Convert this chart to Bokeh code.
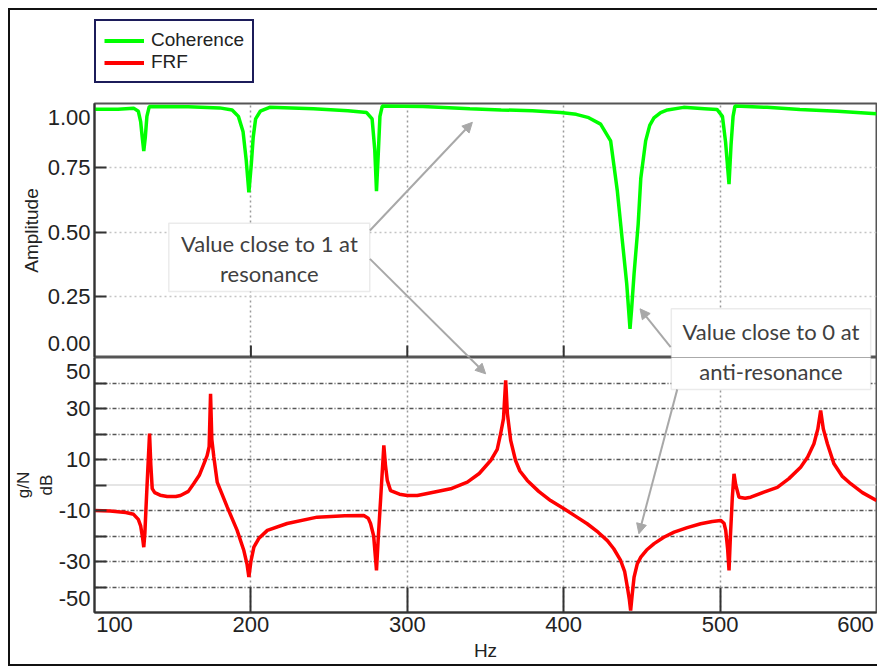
import math
from bokeh.plotting import figure
from bokeh.layouts import column
from bokeh.models import (Range1d, FixedTicker, Span, BoxAnnotation, Label, Arrow,
                          NormalHead, Legend, LegendItem)
from bokeh.embed import file_html
from bokeh.resources import INLINE

# ---------------- data ----------------
coh_hz = [100, 115, 125, 128, 129.5, 130.5, 131.5, 132.5, 133.5, 135, 160, 180, 188, 192,
          195, 197, 198.7, 200.2, 201.5, 203, 206, 212, 240, 262, 274, 277.5, 279.2, 280.3,
          281.4, 282.5, 284, 310, 340, 360, 380, 398, 408, 416, 423.6, 430, 434.3, 437.5,
          440.3, 441.5, 442.4, 443.4, 445, 447.6, 449.3, 452.4, 455, 457.7, 462, 466.3,
          476.7, 490, 498, 501.5, 503.5, 505.7, 507, 508.3, 509.5, 530, 551, 575, 600]
coh_val = [0.978, 0.978, 0.982, 0.97, 0.93, 0.87, 0.815, 0.87, 0.95, 0.988, 0.987, 0.983,
           0.975, 0.95, 0.89, 0.78, 0.655, 0.76, 0.87, 0.94, 0.97, 0.985, 0.98, 0.972, 0.965,
           0.94, 0.82, 0.66, 0.80, 0.95, 0.99, 0.988, 0.98, 0.975, 0.972, 0.965, 0.958, 0.945,
           0.92, 0.855, 0.66, 0.467, 0.30, 0.20, 0.125, 0.20, 0.34, 0.53, 0.71, 0.855, 0.915,
           0.944, 0.965, 0.975, 0.985, 0.98, 0.977, 0.95, 0.85, 0.687, 0.84, 0.95, 0.99, 0.985,
           0.977, 0.97, 0.96]

frf_hz = [100, 110, 120, 125, 128, 129.5, 130.8, 131.5, 132.2, 133, 134, 135.2, 136, 136.9,
          138.5, 142, 146.5, 152, 155, 160, 163.5, 167, 170, 172, 173.3, 174.2, 175, 176.3,
          178.5, 184.9, 191.2, 195.5, 197.5, 198.7, 200, 201.9, 205, 210.5, 223.2, 242.4, 260,
          272.2, 275, 276.5, 278.5, 280.3, 281.5, 283, 285, 286, 287.2, 289.3, 295, 300, 306.4,
          312.8, 327.7, 338.4, 346, 353.3, 357.5, 359.7, 361.5, 362.9, 364, 366.1, 369.2, 372,
          376.7, 384, 391.6, 400.2, 407, 415, 422, 427.9, 432, 436.4, 439, 440.7, 442, 442.8,
          443.8, 445, 447, 449.3, 453, 457.8, 464, 470.6, 479, 487.6, 495, 500.4, 502.5, 503.6,
          504.8, 505.7, 506.6, 507.8, 508.9, 510, 512.1, 516, 519.6, 528, 536.6, 544, 551.5,
          556, 560, 562.5, 564.3, 566, 568.6, 572.8, 578, 583.5, 591, 600]
frf_db = [-10.0, -10.2, -10.8, -11.5, -13.5, -16, -21, -24.4, -19, -8, 5, 20.2, 8, -1.4,
          -3, -4, -4.5, -4.5, -4.1, -2.5, 0.6, 3.8, 8.4, 11.5, 15, 35.8, 18, 11, 1,
          -8.7, -17.8, -25.7, -31, -36.1, -30, -24.4, -21, -17.8, -15.1, -12.6, -12.1,
          -12, -13, -15.1, -20, -33.5, -20, -5, 15.5, 8, 1.8, -2.2, -3.6, -4.1, -4.1,
          -3.3, -1.5, 1.1, 4.5, 9.6, 14, 20.2, 26, 41, 28, 17.5, 9.6, 5.5,
          1.8, -2.5, -6.1, -9.3, -12, -15.2, -18.5, -21.8, -25, -29.6, -34, -40, -45, -49.2,
          -43, -36.1, -31, -28.3, -25.5, -23, -20.5, -18.5, -16.7, -15.2, -14.3, -13.9, -15, -17.8,
          -25, -33.5, -20, -5, 4.4, 0, -4.8, -5.2, -4.8, -2.8, -0.9, 2.5, 7,
          11, 16.2, 22, 29.2, 22, 16.2, 8.3, 3.5, 0.5, -3, -6.1]

x_ticks = [100, 200, 300, 400, 500, 600]
x_tick_labels = ["100", "200", "300", "400", "500", "600"]
x_grid = [200, 300, 400, 500]
coh_ticks = [0.0, 0.25, 0.50, 0.75, 1.0]
coh_tick_labels = ["0.00", "0.25", "0.50", "0.75", "1.00"]
coh_grid = [0.25, 0.50, 0.75]
frf_ticks = [-50, -30, -10, 10, 30, 50]
frf_tick_labels = ["-50", "-30", "-10", "10", "30", "50"]
frf_grid = [-40, -30, -20, -10, 10, 20, 30, 40]
frf_zero = 0

# ---------------- geometry ----------------
X_LO, X_HI = 100, 600
COH_LO, COH_HI = 0.014, 1.0
FRF_LO, FRF_HI = -50, 50
PX_W, PX_TOP, PX_BOT = 782, 254, 255
coh_per_px = (COH_HI - COH_LO) / PX_TOP
frf_per_px = (FRF_HI - FRF_LO) / PX_BOT
hz_per_px = (X_HI - X_LO) / PX_W
EDGE = 14


def clamp(v, lo, hi):
    return max(lo, min(hi, v))


def label_positions(vals, texts, lo, per_px, npx, edge_lo, edge_hi):
    pos, over = [], {}
    for v, t in zip(vals, texts):
        px = clamp((v - lo) / per_px, edge_lo, npx - edge_hi)
        q = lo + px * per_px
        pos.append(q)
        over[q] = t
    return pos, over


FONT = "Liberation Sans"
DARK = "#333333"
GREEN, RED = "#00ff00", "#ff0000"


def style_axis(ax, minor_in):
    ax.major_tick_in = 0
    ax.major_tick_out = 0
    ax.minor_tick_in = minor_in
    ax.minor_tick_out = 0
    ax.minor_tick_line_color = DARK
    ax.minor_tick_line_width = 2
    ax.axis_line_color = DARK
    ax.axis_line_width = 2
    ax.major_label_text_font = FONT
    ax.major_label_text_font_size = "22px"
    ax.major_label_text_color = "#222222"
    ax.axis_label_text_font = FONT
    ax.axis_label_text_font_style = "normal"
    ax.axis_label_text_color = "#222222"


def base_fig(height, y_range, top, bottom):
    f = figure(width=867, height=height, x_range=Range1d(X_LO, X_HI), y_range=y_range,
               output_backend="svg", toolbar_location=None,
               min_border_left=84, min_border_right=1, min_border_top=top,
               min_border_bottom=bottom)
    f.outline_line_color = "#555555"
    f.outline_line_width = 2
    f.xgrid.ticker = FixedTicker(ticks=x_grid)
    f.xgrid.grid_line_color = "#9a9a9a"
    f.xgrid.grid_line_dash = "2 3"
    f.xgrid.grid_line_width = 1.5
    return f


# ---------------- legend strip (keys only, lines hidden) ----------------
pl = figure(width=867, height=92, x_range=Range1d(X_LO, X_HI), y_range=Range1d(0, 1),
            x_axis_location=None, y_axis_location=None, output_backend="svg",
            toolbar_location=None, min_border=0, outline_line_color=None)
pl.grid.visible = False
k_coh = pl.line(coh_hz, coh_val, line_color=GREEN, line_width=4, visible=False)
k_frf = pl.line(frf_hz, frf_db, line_color=RED, line_width=4, visible=False)
legend = Legend(items=[LegendItem(label="Coherence", renderers=[k_coh]),
                       LegendItem(label="FRF", renderers=[k_frf])],
                location=(0, 19), orientation="vertical",
                border_line_color="#1c1c5a", border_line_width=2, border_line_alpha=1,
                padding=8, spacing=0, margin=0, glyph_width=40, glyph_height=21,
                label_height=21, label_standoff=7, label_text_font=FONT,
                label_text_font_size="19px", label_text_color="#222222",
                background_fill_color="white", background_fill_alpha=1, click_policy="none")
pl.add_layout(legend, "center")

# ---------------- top panel: coherence ----------------
pt = base_fig(255, Range1d(COH_LO, COH_HI), 1, 0)
pt.xaxis.visible = False
yt_pos, yt_over = label_positions(coh_ticks, coh_tick_labels, COH_LO, coh_per_px, PX_TOP, EDGE, EDGE)
pt.yaxis.ticker = FixedTicker(ticks=yt_pos, minor_ticks=coh_grid)
pt.yaxis.major_label_overrides = yt_over
style_axis(pt.yaxis[0], 12)
pt.yaxis.major_label_standoff = 4
pt.yaxis.axis_label = "Amplitude"
pt.yaxis.axis_label_text_font_size = "19px"
pt.yaxis.axis_label_standoff = 3
pt.ygrid.ticker = FixedTicker(ticks=coh_grid)
pt.ygrid.grid_line_color = "#c4c4c4"
pt.ygrid.grid_line_dash = "2 3"
pt.ygrid.grid_line_width = 1.5
pt.ray(x=x_grid, y=[COH_LO] * len(x_grid), length=12, length_units="screen",
       angle=math.pi / 2, line_color=DARK, line_width=2)
pt.line(coh_hz, coh_val, line_color=GREEN, line_width=3.5)

# ---------------- bottom panel: FRF ----------------
pb = base_fig(307, Range1d(FRF_LO, FRF_HI), 0, 52)
yb_pos, yb_over = label_positions(frf_ticks, frf_tick_labels, FRF_LO, frf_per_px, PX_BOT, EDGE, EDGE)
pb.yaxis.ticker = FixedTicker(ticks=yb_pos, minor_ticks=frf_grid + [frf_zero])
pb.yaxis.major_label_overrides = yb_over
style_axis(pb.yaxis[0], 12)
pb.yaxis.major_label_standoff = 4
pb.yaxis.axis_label = "g/N\ndB"
pb.yaxis.axis_label_text_font_size = "17px"
pb.yaxis.axis_label_standoff = 0
pb.ygrid.ticker = FixedTicker(ticks=frf_grid)
pb.ygrid.grid_line_color = "#555555"
pb.ygrid.grid_line_dash = "4 2 1 2"
pb.ygrid.grid_line_width = 1.5
pb.add_layout(Span(location=frf_zero, dimension="width", line_color="#dcdcdc",
                   line_width=1.5, level="underlay"))

xb_pos, xb_over = label_positions(x_ticks, x_tick_labels, X_LO, hz_per_px, PX_W, 20, 21)
pb.xaxis.ticker = FixedTicker(ticks=xb_pos, minor_ticks=x_grid)
pb.xaxis.major_label_overrides = xb_over
style_axis(pb.xaxis[0], 25)
pb.xaxis.major_label_standoff = 4
pb.xaxis.axis_label = "Hz"
pb.xaxis.axis_label_text_font_size = "19px"
pb.xaxis.axis_label_standoff = 5

pb.line(frf_hz, frf_db, line_color=RED, line_width=3.5)

# ---------------- callouts ----------------
GRAY = "#a8a8a8"
BOX = dict(fill_color="white", fill_alpha=1, line_color="#bdbdbd", line_width=1.5,
           level="overlay")
NOTE = dict(text_font="Lato", text_font_size="22px", text_color="#404040",
            text_align="center", text_baseline="middle", level="overlay")


def arrow(fig, x0, y0, x1, y1):
    fig.add_layout(Arrow(x_start=x0, y_start=y0, x_end=x1, y_end=y1, line_color=GRAY,
                         line_width=2, level="overlay",
                         end=NormalHead(size=10, fill_color=GRAY, line_color=GRAY)))


# note 1 (top panel, arrow continues into the bottom panel)
pt.add_layout(BoxAnnotation(left=147.5, right=276.0, top=0.535, bottom=0.270, **BOX))
pt.add_layout(Label(x=211.8, y=0.455, text="Value close to 1 at", **NOTE))
pt.add_layout(Label(x=211.8, y=0.341, text="resonance", **NOTE))
arrow(pt, 276.1, 0.507, 341.6, 0.927)
arrow(pt, 276.1, 0.397, 350.1, -0.049)
arrow(pb, 276.1, 88.7, 350.1, 43.6)

# note 2 (straddles both panels)
pt.add_layout(BoxAnnotation(left=468.8, right=596.3, top=0.203, bottom=-0.110, **BOX))
pb.add_layout(BoxAnnotation(left=468.8, right=596.3, top=69.1, bottom=37.5, **BOX))
pt.add_layout(Label(x=532.5, y=0.115, text="Value close to 0 at", **NOTE))
pb.add_layout(Label(x=532.5, y=44.5, text="anti-resonance", **NOTE))
arrow(pt, 468.4, 0.054, 448.8, 0.203)
arrow(pb, 472.6, 37.5, 448.1, -19.1)

layout = column(pl, pt, pb, spacing=0, margin=(8, 0, 0, 8),
                styles={"border-left": "2px solid #111", "border-top": "2px solid #111",
                        "border-bottom": "2px solid #111"})

open("out.html", "w").write(file_html(layout, INLINE))
